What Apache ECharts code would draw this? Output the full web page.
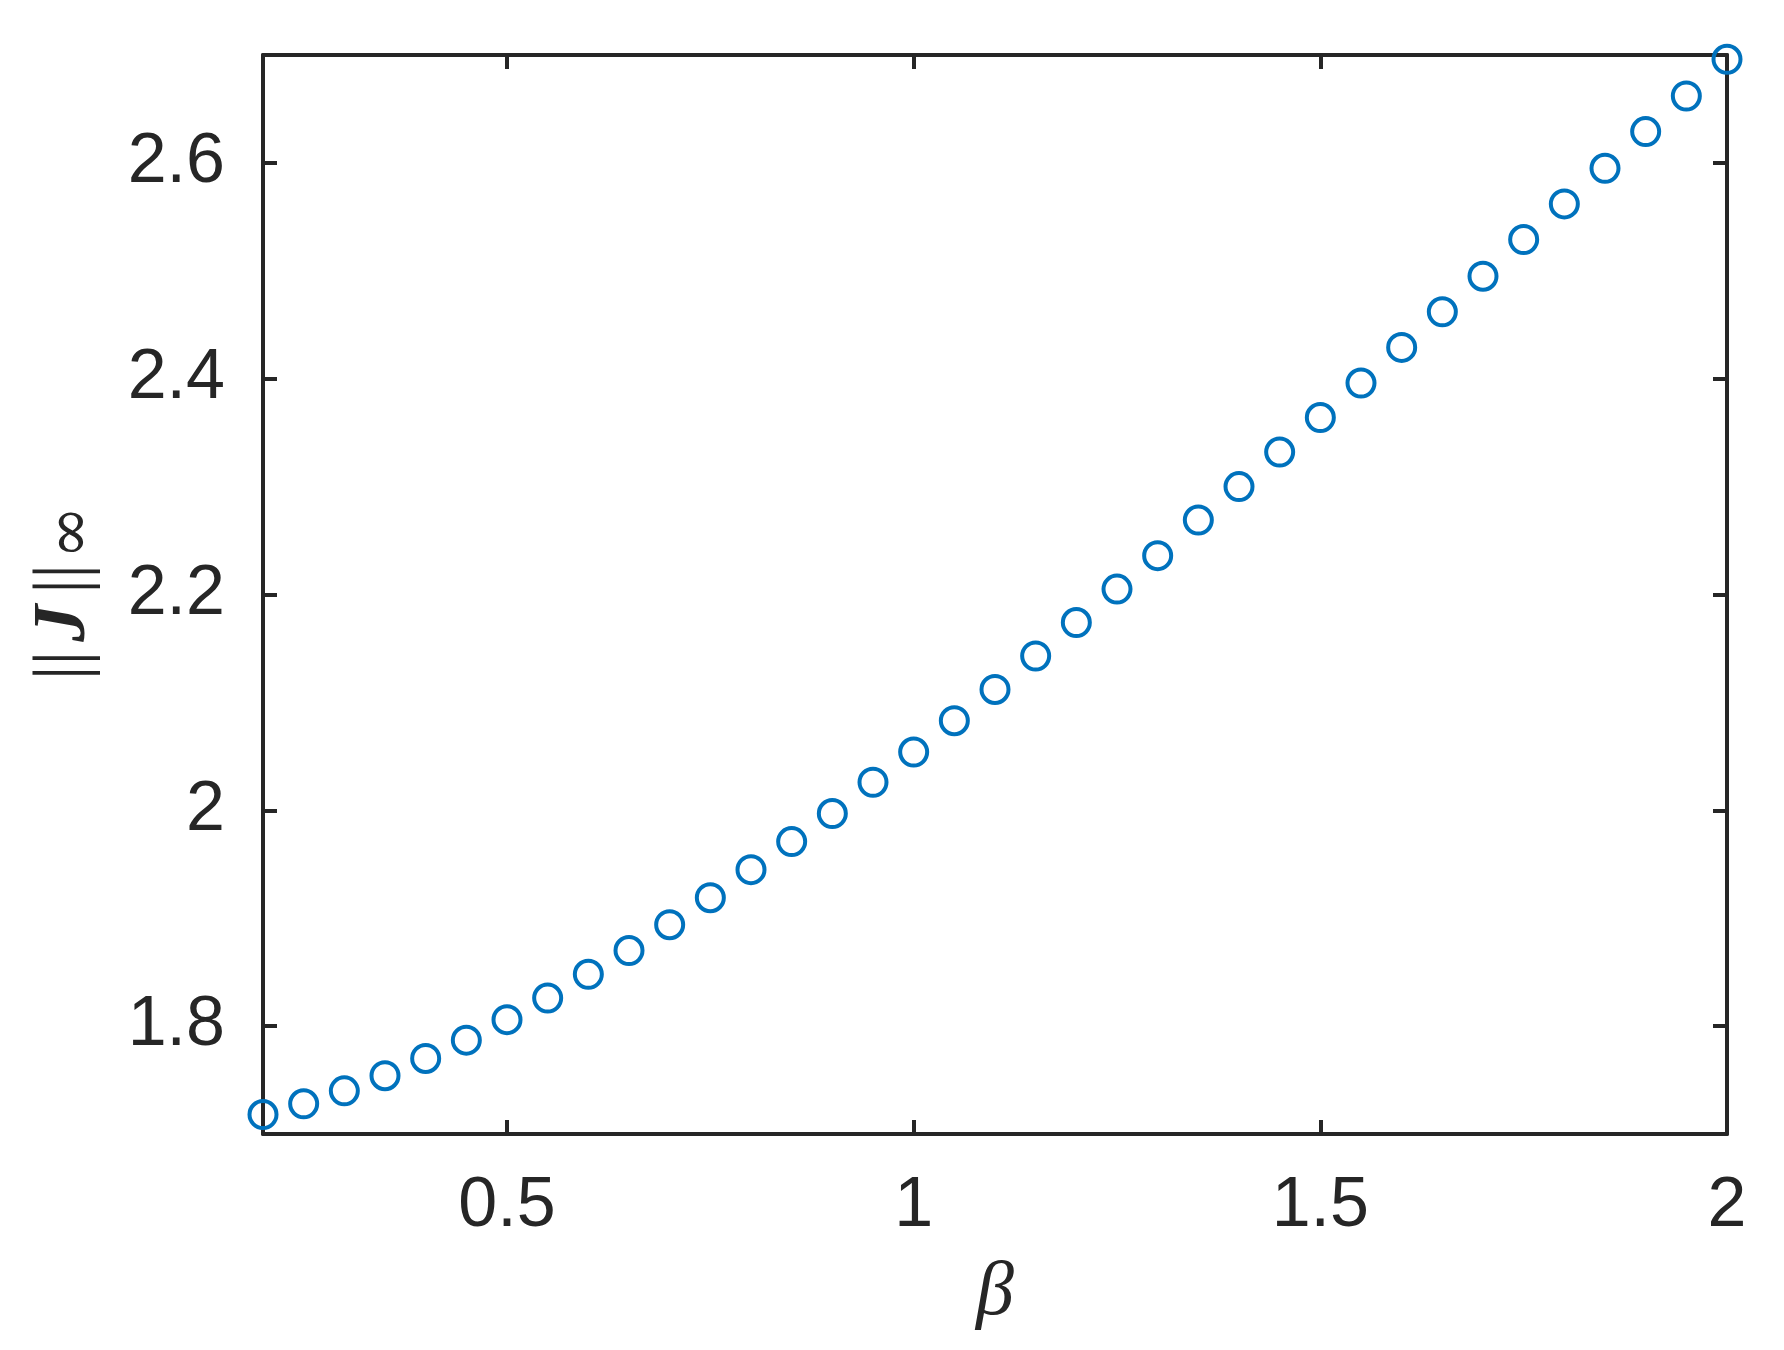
<!DOCTYPE html>
<html>
<head>
<meta charset="utf-8">
<style>html,body{margin:0;padding:0;background:#fff;}#c{width:1784px;height:1350px;}</style>
<script src="https://cdn.jsdelivr.net/npm/echarts@6/dist/echarts.min.js"></script>
</head>
<body>
<div id="c"></div>
<script>
var beta = [0.2,0.25,0.3,0.35,0.4,0.45,0.5,0.55,0.6,0.65,0.7,0.75,0.8,0.85,0.9,0.95,1.0,1.05,1.1,1.15,1.2,1.25,1.3,1.35,1.4,1.45,1.5,1.55,1.6,1.65,1.7,1.75,1.8,1.85,1.9,1.95,2.0];
var jNorm = [1.718,1.728,1.740,1.754,1.770,1.787,1.806,1.826,1.848,1.870,1.894,1.919,1.945,1.971,1.997,2.026,2.054,2.083,2.112,2.143,2.174,2.205,2.236,2.269,2.300,2.332,2.364,2.396,2.429,2.462,2.495,2.529,2.562,2.595,2.629,2.662,2.696];
var xTicks = [0.5, 1, 1.5, 2];
var yTicks = [1.8, 2, 2.2, 2.4, 2.6];
var xRange = [0.2, 2];
var yRange = [1.7, 2.7];

var AX = '#262626';
var points = beta.map(function (b, i) { return [b, jNorm[i]]; });

function axisCommon(extra) {
  var base = {
    type: 'value',
    axisLine: { show: true, onZero: false, lineStyle: { color: AX, width: 4 } },
    splitLine: { show: false }
  };
  for (var k in extra) base[k] = extra[k];
  return base;
}

var chart = echarts.init(document.getElementById('c'), null, { renderer: 'canvas' });
chart.setOption({
  backgroundColor: '#ffffff',
  animation: false,
  grid: { left: 263, right: 57, top: 55, bottom: 216, containLabel: false },
  xAxis: [
    axisCommon({
      position: 'bottom', min: xRange[0], max: xRange[1],
      name: 'β', nameLocation: 'middle', nameGap: 122,
      nameTextStyle: { fontFamily: 'Liberation Serif', fontStyle: 'italic', fontSize: 76, color: AX },
      axisTick: { show: true, inside: true, length: 14, customValues: xTicks, lineStyle: { color: AX, width: 4 } },
      axisLabel: { show: true, customValues: xTicks, margin: 38, fontFamily: 'Liberation Sans', fontSize: 70, color: AX }
    }),
    axisCommon({
      position: 'top', min: xRange[0], max: xRange[1],
      axisTick: { show: true, inside: true, length: 14, customValues: xTicks, lineStyle: { color: AX, width: 4 } },
      axisLabel: { show: false }
    })
  ],
  yAxis: [
    axisCommon({
      position: 'left', min: yRange[0], max: yRange[1],
      name: '{b|||}{j|J}{b|||}{s|∞}', nameLocation: 'middle', nameGap: 158,
      nameTextStyle: {
        color: AX,
        rich: {
          b: { fontFamily: 'Liberation Serif', fontSize: 74, lineHeight: 80, color: AX, padding: [0, 3, 0, 3] },
          j: { fontFamily: 'Liberation Serif', fontStyle: 'italic', fontWeight: 'bold', fontSize: 74, lineHeight: 80, color: AX, padding: [0, 8, 0, 6] },
          s: { fontFamily: 'DejaVu Serif', fontSize: 64, lineHeight: 60, color: AX, verticalAlign: 'bottom', padding: [0, 0, 0, 2] }
        }
      },
      axisTick: { show: true, inside: true, length: 14, customValues: yTicks, lineStyle: { color: AX, width: 4 } },
      axisLabel: { show: true, customValues: yTicks, margin: 38, fontFamily: 'Liberation Sans', fontSize: 70, color: AX }
    }),
    axisCommon({
      position: 'right', min: yRange[0], max: yRange[1],
      axisTick: { show: true, inside: true, length: 14, customValues: yTicks, lineStyle: { color: AX, width: 4 } },
      axisLabel: { show: false }
    })
  ],
  series: [{
    type: 'scatter',
    xAxisIndex: 0, yAxisIndex: 0,
    data: points,
    symbol: 'circle',
    symbolSize: 27,
    clip: false,
    itemStyle: { color: 'rgba(0,0,0,0)', borderColor: '#0072BD', borderWidth: 4, opacity: 1 },
    emphasis: { disabled: true },
    z: 5
  }]
});
</script>
</body>
</html>
